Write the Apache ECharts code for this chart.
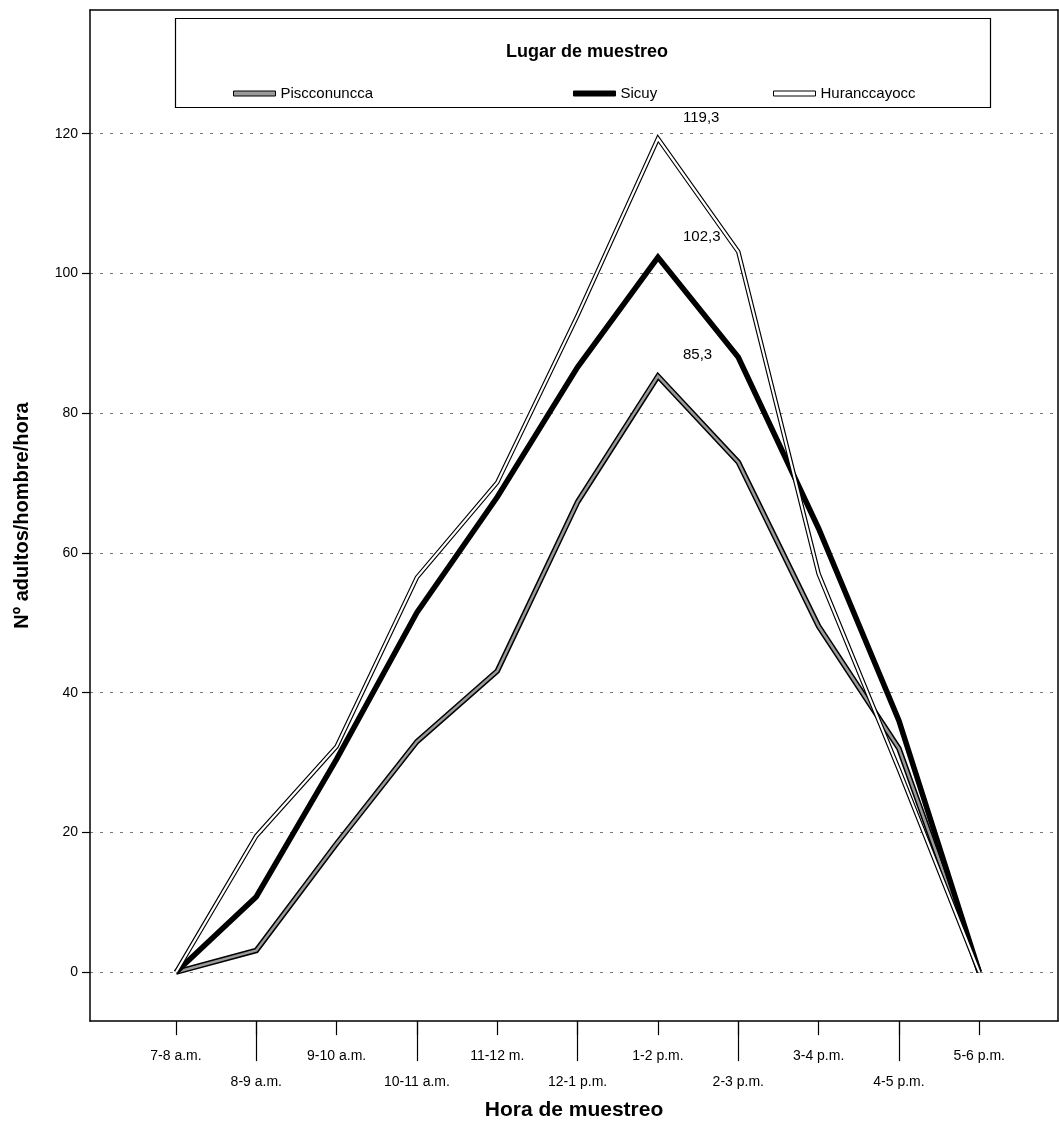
<!DOCTYPE html>
<html>
<head>
<meta charset="utf-8">
<script src="https://cdn.jsdelivr.net/npm/echarts@6/dist/echarts.min.js"></script>
<style>
html,body{margin:0;padding:0;background:#fff;}
#chart{width:1059px;height:1126px;}
</style>
</head>
<body>
<div id="chart"></div>
<script>
// ---- data ----
var categories = ['7-8 a.m.', '8-9 a.m.', '9-10 a.m.', '10-11 a.m.', '11-12 m.', '12-1 p.m.', '1-2 p.m.', '2-3 p.m.', '3-4 p.m.', '4-5 p.m.', '5-6 p.m.'];
var piscconuncca = [0, 3.1, 18.4, 33.0, 43.1, 67.3, 85.3, 73.0, 49.5, 32.0, 0];
var sicuy        = [0, 10.8, 30.5, 51.5, 68.0, 86.6, 102.3, 88.0, 63.5, 36.0, 0];
var huranccayocc = [0, 19.5, 32.3, 56.5, 70.1, 94.0, 119.3, 103.1, 57.0, 29.0, 0];
var seriesNames = ['Piscconuncca', 'Sicuy', 'Huranccayocc'];
var yTicks = [0, 20, 40, 60, 80, 100, 120];
var peakIndex = 6;

var FONT = '"Liberation Sans", Arial, sans-serif';
var chart = echarts.init(document.getElementById('chart'), null, {renderer: 'canvas'});

function pts(arr) { return arr.map(function (v, i) { return [i, v]; }); }
function labelled(arr) {
  return arr.map(function (v, i) {
    if (i === peakIndex) {
      return {value: [i, v], label: {show: true}};
    }
    return [i, v];
  });
}
function fmt(p) { return String(p.value[1].toFixed(1)).replace('.', ','); }

var styles = [
  {data: piscconuncca, inner: '#9a9a9a', outerW: 5.5, innerW: 2.5},
  {data: sicuy, inner: '#000000', outerW: 5.5, innerW: 2.5},
  {data: huranccayocc, inner: '#ffffff', outerW: 4.5, innerW: 2.2}
];

var series = [];
styles.forEach(function (s, k) {
  series.push({
    name: '_outline' + k,
    type: 'line',
    data: pts(s.data),
    symbol: 'none',
    lineStyle: {color: '#000', width: s.outerW, join: 'miter'},
    z: 2 + k * 2,
    silent: true,
    animation: false
  });
  series.push({
    name: seriesNames[k],
    type: 'line',
    data: labelled(s.data),
    symbol: 'circle',
    symbolSize: 0.1,
    showSymbol: true,
    itemStyle: {color: 'rgba(0,0,0,0)'},
    lineStyle: {color: s.inner, width: s.innerW, join: 'miter'},
    label: {
      show: false,
      position: 'right',
      offset: [20, -21],
      formatter: fmt,
      color: '#000',
      fontFamily: FONT,
      fontSize: 15
    },
    z: 3 + k * 2,
    animation: false
  });
});

var legendPos = [228, 568, 768];
var legendFill = ['#9a9a9a', '#000000', '#ffffff'];
var legends = seriesNames.map(function (n, i) {
  return {
    left: legendPos[i],
    top: 81,
    orient: 'horizontal',
    itemWidth: 42,
    itemHeight: 5,
    itemGap: 6,
    selectedMode: false,
    textStyle: {fontFamily: FONT, fontSize: 15, color: '#000'},
    data: [{name: n, icon: 'rect', itemStyle: {color: legendFill[i], borderColor: '#000', borderWidth: 1}}]
  };
});

var noZero = {onZero: false};
var option = {
  backgroundColor: '#fff',
  animation: false,
  title: {
    text: 'Lugar de muestreo',
    left: 582,
    textAlign: 'center',
    top: 38,
    textStyle: {fontFamily: FONT, fontSize: 18, fontWeight: 'bold', color: '#000'}
  },
  legend: legends,
  graphic: [{
    type: 'rect',
    shape: {x: 175.5, y: 18.5, width: 815, height: 89},
    style: {fill: 'none', stroke: '#000', lineWidth: 1.2},
    z: 1
  }],
  grid: {left: 90, right: 1, top: 10, bottom: 103, containLabel: false},
  xAxis: [{
    type: 'value',
    min: -1.07,
    max: 10.98,
    position: 'bottom',
    name: 'Hora de muestreo',
    nameLocation: 'middle',
    nameGap: 72,
    nameTextStyle: {fontFamily: FONT, fontSize: 21, fontWeight: 'bold', color: '#000'},
    axisLine: {show: true, onZero: false, lineStyle: {color: '#000', width: 1.5}},
    axisTick: {show: true, customValues: [0, 1, 2, 3, 4, 5, 6, 7, 8, 9, 10], length: 14, lineStyle: {color: '#000', width: 1.2}},
    axisLabel: {
      customValues: [0, 1, 2, 3, 4, 5, 6, 7, 8, 9, 10],
      margin: 22,
      fontFamily: FONT,
      fontSize: 14,
      color: '#000',
      lineHeight: 26,
      formatter: function (v) {
        var i = Math.round(v);
        return i % 2 ? '\n' + categories[i] : categories[i];
      }
    },
    splitLine: {show: false}
  }, {
    type: 'value',
    min: -1.07,
    max: 10.98,
    position: 'bottom',
    offset: 0,
    axisLine: {show: false, onZero: false},
    axisTick: {show: true, customValues: [1, 3, 5, 7, 9], length: 40, lineStyle: {color: '#000', width: 1.2}},
    axisLabel: {show: false},
    splitLine: {show: false}
  }, {
    type: 'value',
    min: -1.07,
    max: 10.98,
    position: 'top',
    axisLine: {show: true, onZero: false, lineStyle: {color: '#000', width: 1.5}},
    axisTick: {show: false},
    axisLabel: {show: false},
    splitLine: {show: false}
  }],
  yAxis: [{
    type: 'value',
    min: -7,
    max: 137.7,
    position: 'left',
    name: 'Nº adultos/hombre/hora',
    nameLocation: 'middle',
    nameGap: 58,
    nameRotate: 90,
    nameTextStyle: {fontFamily: FONT, fontSize: 20, fontWeight: 'bold', color: '#000'},
    axisLine: {show: true, onZero: false, lineStyle: {color: '#000', width: 1.5}},
    axisTick: {show: true, customValues: yTicks, length: 8, lineStyle: {color: '#000', width: 1.2}},
    axisLabel: {customValues: yTicks, margin: 12, fontFamily: FONT, fontSize: 14, color: '#000'},
    splitLine: {show: true, lineStyle: {color: '#777', width: 1, type: [3, 7]}}
  }, {
    type: 'value',
    min: -7,
    max: 137.7,
    position: 'right',
    axisLine: {show: true, onZero: false, lineStyle: {color: '#000', width: 1.5}},
    axisTick: {show: false},
    axisLabel: {show: false},
    splitLine: {show: false}
  }],
  series: series
};
chart.setOption(option);
</script>
</body>
</html>
